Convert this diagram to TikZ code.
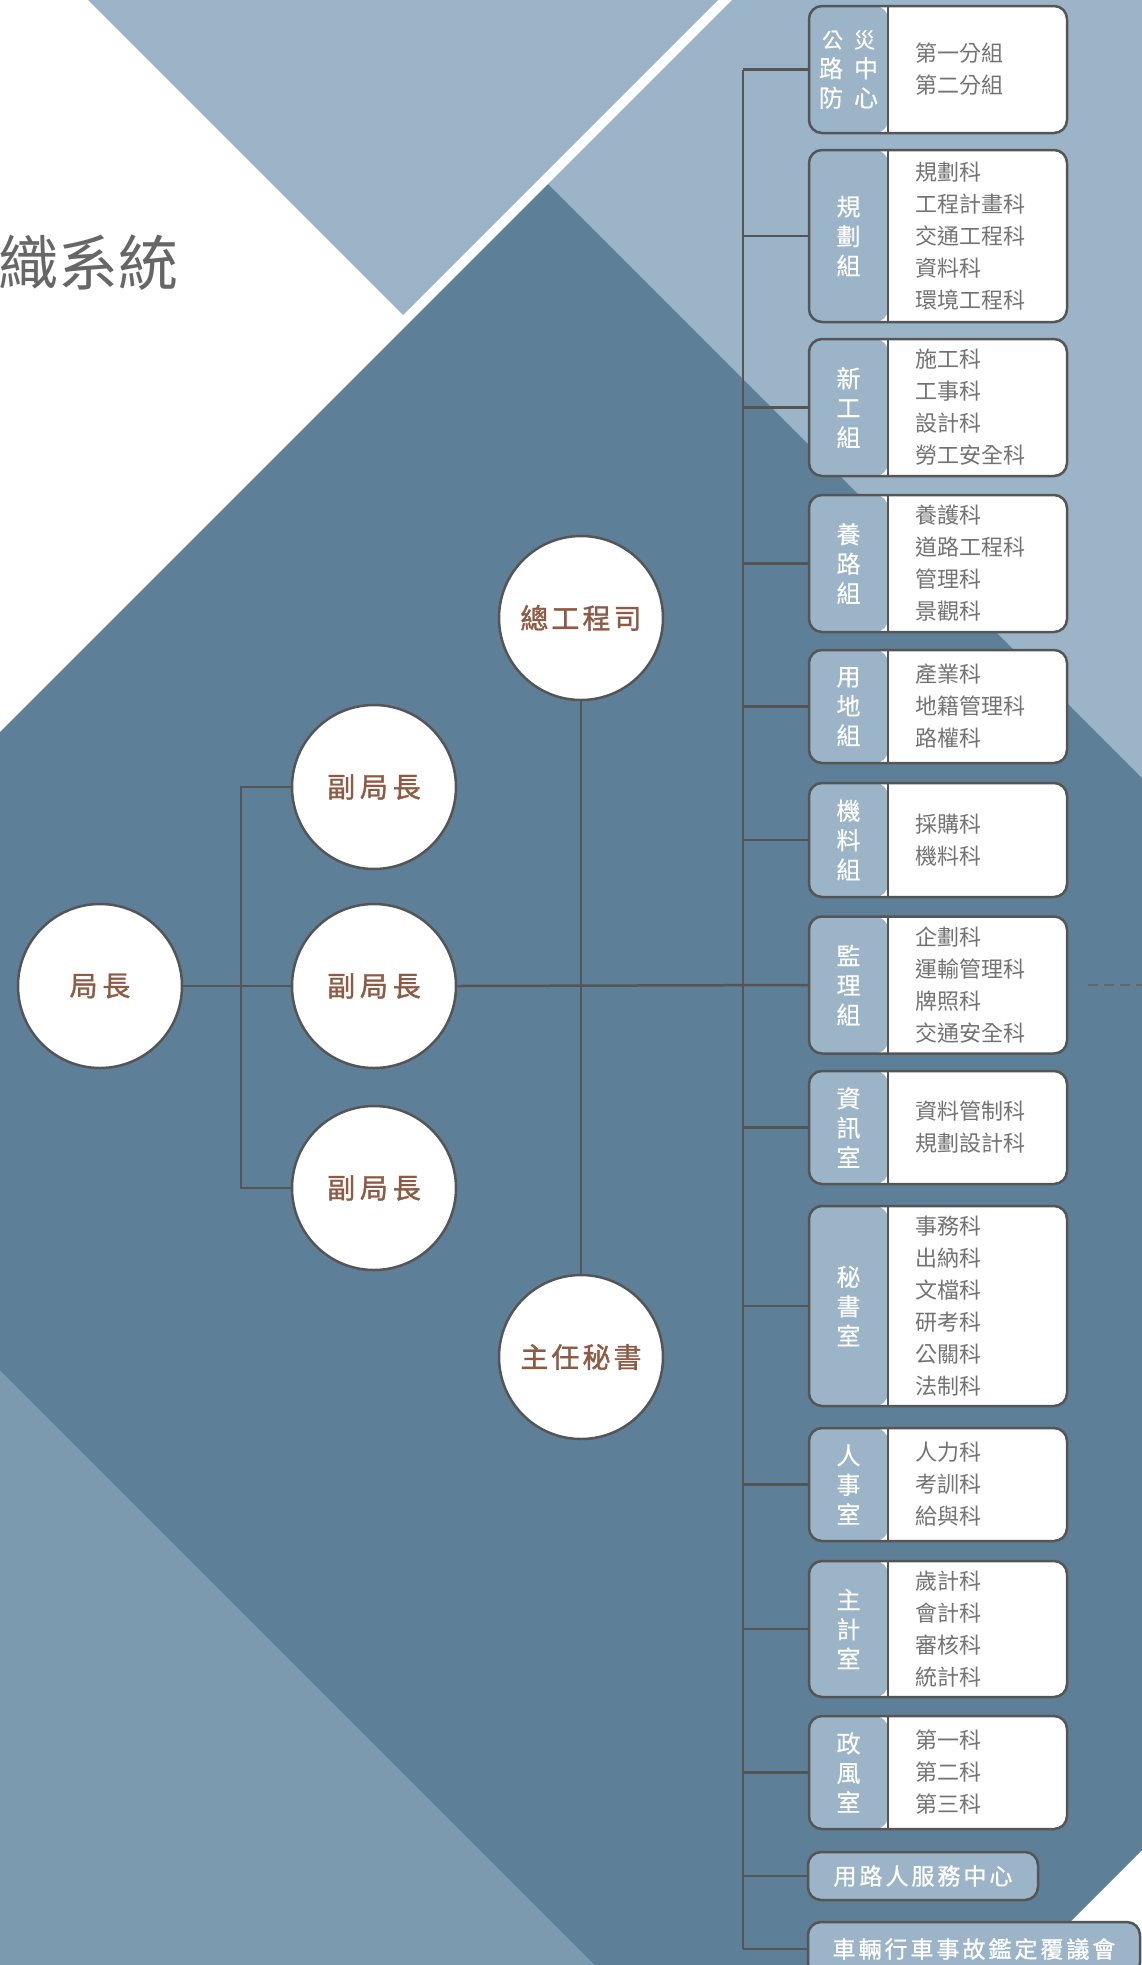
\documentclass[tikz,border=0pt]{standalone}
\usepackage{fontspec}
\newfontfamily\cjk{Noto Sans CJK TC}
\definecolor{lightbg}{HTML}{9CB4C7}
\definecolor{darkbg}{HTML}{5E7F98}
\definecolor{midbg}{HTML}{7B9AB0}
\definecolor{tabc}{HTML}{9CB4C7}
\definecolor{linec}{HTML}{555555}
\definecolor{circtext}{HTML}{8E5A44}
\definecolor{listc}{HTML}{737373}
\definecolor{titlec}{HTML}{666666}
\newcommand{\orgunitbox}[5]{%
  \node[orgbox, minimum height=#3pt] (b#1) at (938,#2) {};
  \node[tablabel] (t#1) at (848.5,#2) {#4};
  \node[listtext, anchor=west] (l#1) at (915,#2) {#5};
}
\begin{document}
\begin{tikzpicture}[x=1pt,y=-1pt,
  conn/.style={draw=linec, line width=2.5pt},
  orgbox/.style={draw=linec, line width=2.5pt, rounded corners=13pt, fill=white,
    minimum width=258pt, inner sep=0pt,
    path picture={\fill[tabc] (path picture bounding box.north west) rectangle ([xshift=79pt]path picture bounding box.south west);
      \draw[linec, line width=2.5pt] ([xshift=79pt]path picture bounding box.north west) -- ([xshift=79pt]path picture bounding box.south west);}},
  tablabel/.style={text=white, inner sep=0pt, align=center, font=\cjk\fontsize{24}{29.5}\selectfont\addfontfeatures{FakeBold=0.4}},
  listtext/.style={text=listc, inner sep=0pt, align=left, font=\cjk\fontsize{22}{32}\selectfont},
  circ/.style={circle, draw=linec, line width=2.5pt, fill=white, minimum size=164pt, inner sep=0pt,
    text=circtext, font=\cjk\fontsize{28}{28}\selectfont\addfontfeatures{LetterSpace=17,FakeBold=1.2}},
  wbox/.style={draw=linec, line width=2.5pt, rounded corners=13pt, fill=tabc, inner sep=0pt,
    text=white, font=\cjk\fontsize{23}{23}\selectfont\addfontfeatures{LetterSpace=13,FakeBold=1}},
  titletext/.style={text=titlec, inner sep=0pt, font=\cjk\fontsize{60}{60}\selectfont}
]
\useasboundingbox (0,0) rectangle (1142,1965);
\clip (0,0) rectangle (1142,1965);
% background
\fill[white] (0,0) rectangle (1142,1965);
\fill[lightbg] (88,0) -- (718,0) -- (403,315) -- cycle;
\fill[lightbg] (732,0) -- (1142,0) -- (1142,778) -- (548,184) -- cycle;
\fill[darkbg] (548,184) -- (1142,778) -- (1142,1850) -- (1027,1965) -- (594,1965) -- (0,1371) -- (0,732) -- cycle;
\fill[midbg] (0,1371) -- (594,1965) -- (0,1965) -- cycle;
% title
\node[titletext, anchor=west] (title) at (-2,263) {織系統};
% circles
\node[circ] (jz) at (100,986) {局長};
\node[circ] (fz1) at (374,787) {副局長};
\node[circ] (fz2) at (374,986) {副局長};
\node[circ] (fz3) at (374,1188) {副局長};
\node[circ, font=\cjk\fontsize{28}{28}\selectfont\addfontfeatures{LetterSpace=11,FakeBold=1.2}] (zg) at (581,618) {總工程司};
\node[circ, font=\cjk\fontsize{28}{28}\selectfont\addfontfeatures{LetterSpace=11,FakeBold=1.2}] (zs) at (581,1357) {主任秘書};
% unit boxes
\orgunitbox{1}{69.5}{127}{\fontsize{21}{31}\selectfont 公\hspace{11pt}災\\路\hspace{11pt}中\\防\hspace{11pt}心}{第一分組\\第二分組}
\orgunitbox{2}{236}{172}{規\\劃\\組}{規劃科\\工程計畫科\\交通工程科\\資料科\\環境工程科}
\orgunitbox{3}{407.5}{137}{新\\工\\組}{施工科\\工事科\\設計科\\勞工安全科}
\orgunitbox{4}{563.5}{137}{養\\路\\組}{養護科\\道路工程科\\管理科\\景觀科}
\orgunitbox{5}{706.5}{113}{用\\地\\組}{產業科\\地籍管理科\\路權科}
\orgunitbox{6}{840}{114}{機\\料\\組}{採購科\\機料科}
\orgunitbox{7}{985}{137}{監\\理\\組}{企劃科\\運輸管理科\\牌照科\\交通安全科}
\orgunitbox{8}{1127.5}{113}{資\\訊\\室}{資料管制科\\規劃設計科}
\orgunitbox{9}{1306}{200}{秘\\書\\室}{事務科\\出納科\\文檔科\\研考科\\公關科\\法制科}
\orgunitbox{10}{1484.5}{113}{人\\事\\室}{人力科\\考訓科\\給與科}
\orgunitbox{11}{1629}{136}{主\\計\\室}{歲計科\\會計科\\審核科\\統計科}
\orgunitbox{12}{1772.5}{113}{政\\風\\室}{第一科\\第二科\\第三科}
\node[wbox, minimum width=230pt, minimum height=48pt] (b13) at (923,1876) {用路人服務中心};
\node[wbox, minimum width=332pt, minimum height=54pt] (b14) at (974,1949) {車輛行車事故鑑定覆議會};
% connectors
\coordinate (bus) at (743,0);
\draw[conn] (b1.west -| bus) -- (b14.west -| bus);
\foreach \i in {1,...,14} { \draw[conn] (b\i.west) -- (b\i.west -| bus); }
\draw[conn] (jz.east) -- (fz2.west);
\draw[conn] (fz2.east) -- (b7.west);
\draw[conn] (fz1.west) -- ++(-50,0) |- (fz3.west);
\draw[conn] (zg.south) -- (zs.north);
\coordinate (da) at (1088,985);
\coordinate (db) at (1142,985);
\draw[conn, draw=linec!90, dash pattern=on 10pt off 6pt] (da) -- (db);
\end{tikzpicture}
\end{document}
